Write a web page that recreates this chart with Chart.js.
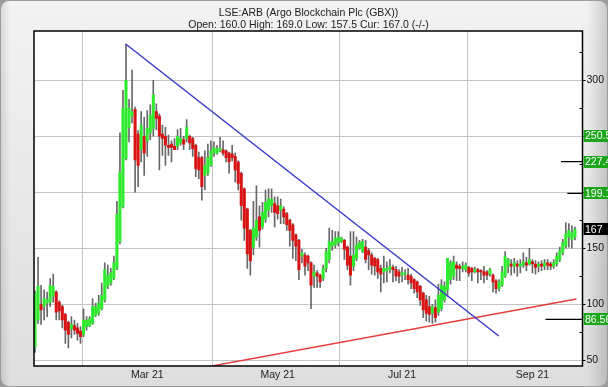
<!DOCTYPE html>
<html><head><meta charset="utf-8">
<script src="https://cdn.jsdelivr.net/npm/chart.js@4/dist/chart.umd.min.js"></script>
<style>
html,body{margin:0;padding:0;background:#fff;}
#wrap{position:relative;width:608px;height:387px;background:#9c9c9c;overflow:hidden}
#bg{position:absolute;left:1px;top:1px;right:1px;bottom:1px;border-radius:8px;
background:linear-gradient(to right, rgba(0,0,0,0.10) 0px, rgba(0,0,0,0) 9px, rgba(0,0,0,0) 586px, rgba(0,0,0,0.16) 606px), linear-gradient(to bottom,#f2f2f2,#dedede);}
canvas{position:absolute;left:0;top:0}
</style></head><body>
<div id="wrap"><div id="bg"></div><canvas id="c" width="608" height="387"></canvas></div>
<script>
const titleText = 'LSE:ARB (Argo Blockchain Plc (GBX))';
const subtitleText = 'Open: 160.0 High: 169.0 Low: 157.5 Cur: 167.0 (-/-)';

const opens  = [62,86,100,98,101,102,107,111,102,98,91,84,78,81,79,76,73,80,81,83,90,92,96,104,116,119,123,132,156,187,230,258,268,274,252,238,250,246,253,257,272,268,252,250,242,243,241,241,244,247,248,250,248,242,231,231,215,217,224,235,235,237,238,237,235,234,232,227,217,203,185,166,151,160,178,169,176,184,188,190,188,184,185,181,175,171,162,157,143,144,143,137,125,128,126,123,132,140,152,153,155,156,157,151,143,134,141,150,147,151,148,144,141,140,132,129,130,131,133,131,129,126,127,126,125,122,120,116,110,104,98,92,97,93,96,104,113,122,125,135,134,132,131,133,132,129,131,130,129,129,127,126,121,114,117,125,134,136,134,136,134,135,137,136,138,136,134,136,134,137,136,134,136,140,146,152,160,158,160];
const highs  = [112,142,117,113,111,123,127,112,103,99,92,85,89,86,83,80,96,89,89,105,101,108,119,137,135,132,143,192,253,291,332,283,309,276,255,272,267,273,278,300,279,270,260,258,251,246,248,256,257,250,265,251,249,243,236,232,237,243,246,245,242,249,246,238,236,242,235,228,218,204,186,167,192,206,188,191,202,203,203,196,196,194,187,182,176,172,163,158,149,146,144,138,135,130,127,135,150,168,166,165,165,160,158,152,165,165,160,157,158,157,150,146,142,141,135,143,138,140,135,134,131,133,131,132,127,123,121,117,111,108,107,100,104,118,122,120,141,139,143,138,136,138,137,134,133,133,132,131,134,130,132,127,122,122,134,147,141,140,141,139,140,146,142,150,140,139,138,139,140,140,138,140,146,151,158,173,172,170,169];
const lows   = [57,83,82,86,89,98,102,86,86,79,65,61,70,73,68,65,71,77,80,82,89,90,95,102,114,117,122,131,154,186,229,245,262,200,205,227,215,232,247,250,256,220,233,224,233,227,238,238,242,238,245,238,232,214,212,193,202,215,223,232,234,236,233,227,217,228,209,202,175,157,132,126,144,157,151,167,173,178,182,169,176,172,172,166,152,141,139,122,137,126,130,96,115,115,115,121,129,137,148,150,152,155,140,131,117,130,139,149,146,137,131,127,126,123,111,119,120,128,120,121,119,120,122,118,114,110,106,99,88,85,84,83,84,90,94,102,107,118,122,121,121,129,129,125,121,128,119,122,119,122,125,111,110,112,116,124,128,126,128,125,128,133,130,135,128,127,129,130,131,131,131,132,134,138,144,150,151,150,157.5];
const closes = [110,116,95,105,104,117,116,93,94,86,77,73,82,77,74,71,86,86,87,98,98,101,108,131,126,128,137,180,218,275,300,275,272,229,224,260,235,257,269,287,266,250,248,242,240,240,238,250,248,243,258,244,239,221,220,205,224,231,237,240,239,239,235,231,227,231,220,208,188,168,145,139,168,175,166,182,191,194,194,182,181,188,178,171,166,157,152,131,146,134,137,117,129,125,120,132,147,156,156,159,160,159,149,135,126,144,153,155,156,140,144,135,134,129,127,132,132,134,131,125,125,128,128,122,119,114,111,104,95,92,91,98,88,108,117,116,141,137,138,132,132,134,135,128,129,131,129,129,126,126,131,120,114,120,129,143,140,134,137,134,136,138,135,140,136,133,136,134,137,135,134,137,143,148,155,163,166,164,167];

const monthTickIdx = [37, 80, 121, 164];
const monthTickLabels = ['Mar 21', 'May 21', 'Jul 21', 'Sep 21'];
const yTickValues = [50,75,100,125,150,175,200,225,250,275,300,325];
const yLabelValues = [50,100,150,200,250,300];

const blueTrendX = [29.9, 152.9];
const blueTrendY = [332.4, 71.7];
const redTrendX = [58.4, 178.5];
const redTrendY = [44.9, 104.7];

const targetLevels = [227.4, 199.1, 86.56];
const targetStartIdx = [173.4, 175.5, 168.3];
const boxLevels = [250.5, 227.4, 199.1, 86.56];
const currentPrice = 167;

const X_MIN = -0.33, X_MAX = 180.5, Y_MIN = 44.9, Y_MAX = 344;
const GREEN = '#30ea30', RED = '#d81414', WICK = '#686868';
const FONT = 'Liberation Sans, Arial, sans-serif';

const idx = opens.map((_, i) => i);
const isUp = i => closes[i] >= opens[i];

const datasets = [
  { type:'line', data: blueTrendX.map((x,k)=>({x, y: blueTrendY[k]})), borderColor:'#3535c8', borderWidth:1.4, pointRadius:0 },
  { type:'line', data: redTrendX.map((x,k)=>({x, y: redTrendY[k]})), borderColor:'#e83c3c', borderWidth:1.4, pointRadius:0 },
  ...targetLevels.map((lv,k)=>({ type:'line', data:[{x:targetStartIdx[k], y:lv},{x:X_MAX, y:lv}], borderColor:'#000', borderWidth:1.2, pointRadius:0 })),
  { type:'bar', data: idx.map(i=>({x:i, y:[opens[i], closes[i]]})), backgroundColor: c => isUp(c.dataIndex) ? GREEN : RED, barThickness:2.4, grouped:false, minBarLength:1, borderWidth:0 },
  { type:'bar', data: idx.map(i=>({x:i, y:[lows[i], highs[i]]})), backgroundColor: WICK, barThickness:1, grouped:false, borderWidth:0 }
];

const framePlugin = {
  id:'frame',
  beforeDraw(chart){
    const {ctx, chartArea:a} = chart;
    ctx.save(); ctx.fillStyle='#fff'; ctx.fillRect(a.left, a.top, a.right-a.left, a.bottom-a.top); ctx.restore();
  },
  afterDraw(chart){
    const {ctx, chartArea:a, scales:{y}} = chart;
    ctx.save();
    ctx.strokeStyle='#000'; ctx.lineWidth=1;
    yTickValues.filter(v=>!yLabelValues.includes(v)).forEach(v=>{
      const py = Math.round(y.getPixelForValue(v)) + 0.5;
      ctx.beginPath(); ctx.moveTo(a.right-3, py); ctx.lineTo(a.right, py); ctx.stroke();
    });
    ctx.lineWidth=1.5;
    ctx.strokeRect(a.left, a.top, a.right-a.left, a.bottom-a.top);
    ctx.fillStyle='#222'; ctx.font='10.5px ' + FONT; ctx.textAlign='center'; ctx.textBaseline='alphabetic';
    ctx.fillText(titleText, 308.5, 15.5);
    ctx.fillText(subtitleText, 308.5, 27.5);
    const W = chart.width;
    const box = (v, bg) => {
      const py = y.getPixelForValue(v);
      ctx.fillStyle = bg; ctx.fillRect(a.right+1, Math.round(py-6), W-(a.right+1), 12);
      ctx.fillStyle = '#fff'; ctx.textAlign='left'; ctx.textBaseline='middle';
      ctx.fillText(String(v), a.right+2.5, py+0.5);
    };
    boxLevels.forEach(v => box(v, '#1aa51a'));
    box(currentPrice, '#000');
    ctx.restore();
  }
};

new Chart(document.getElementById('c'), {
  type:'bar',
  data:{ datasets },
  options:{
    responsive:false, animation:false, devicePixelRatio:1, events:[],
    layout:{ padding:{ left:34, top:31, right:0, bottom:0 } },
    plugins:{ legend:{display:false}, tooltip:{enabled:false}, title:{display:false} },
    scales:{
      x:{ type:'linear', min:X_MIN, max:X_MAX, offset:false,
        afterBuildTicks: s => { s.ticks = monthTickIdx.map(v=>({value:v})); },
        afterFit: s => { s.height = 21; },
        ticks:{ callback: v => { const k = monthTickIdx.indexOf(v); return k>=0 ? monthTickLabels[k] : ''; },
          font:{family:FONT, size:10.5}, color:'#222', padding:3, maxRotation:0, autoSkip:false },
        grid:{ color:'#c4c4c4', drawTicks:false, lineWidth:1 },
        border:{ display:false }
      },
      y:{ type:'linear', position:'right', min:Y_MIN, max:Y_MAX,
        afterBuildTicks: s => { s.ticks = yTickValues.map(v=>({value:v})); },
        afterFit: s => { s.width = 25.5; },
        ticks:{ callback: v => yLabelValues.includes(v) ? String(v) : '', font:{family:FONT, size:10.5}, color:'#111', padding:1 },
        grid:{ color: c => (c.tick && yLabelValues.includes(c.tick.value)) ? '#c4c4c4' : 'rgba(0,0,0,0)',
               tickColor: c => (c.tick && yLabelValues.includes(c.tick.value)) ? '#000' : 'rgba(0,0,0,0)',
               tickLength:3, drawTicks:true },
        border:{ display:false }
      }
    }
  },
  plugins:[framePlugin]
});
</script>
</body></html>
